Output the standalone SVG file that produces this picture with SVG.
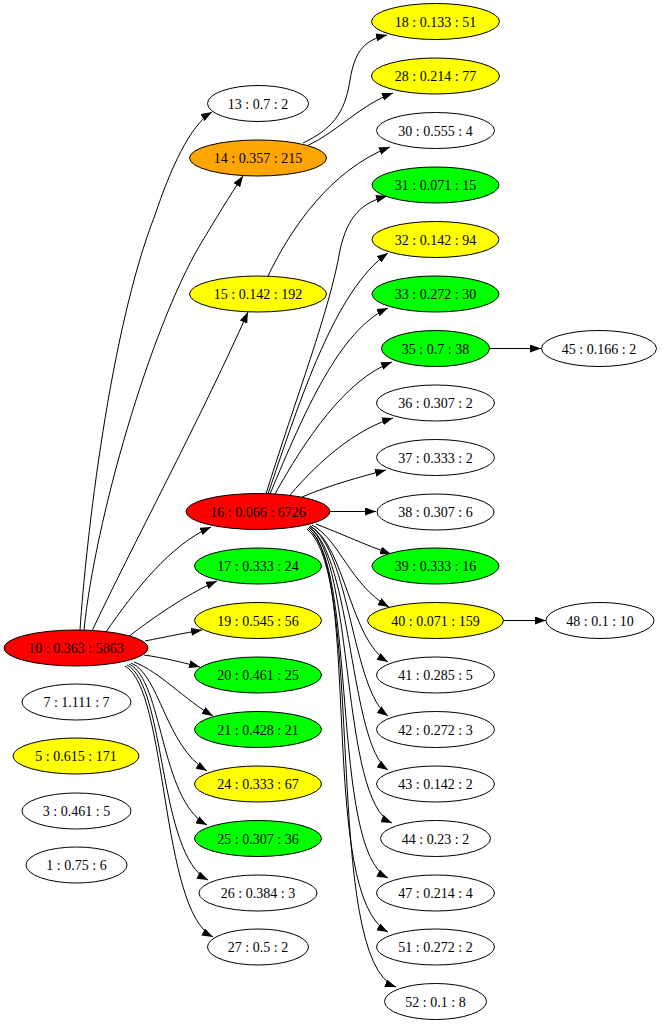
<svg xmlns="http://www.w3.org/2000/svg" width="663" height="1024" viewBox="0 0 663 1024">
<defs>
<style>
.n ellipse{stroke:#000;stroke-width:1}
.n text{font-family:"Liberation Serif","Times New Roman",serif;font-size:14px;text-anchor:middle;fill:#000}
.w{fill:#fff}.r{fill:#ff0000}.g{fill:#00ff00}.y{fill:#ffff00}.o{fill:#ffa500}
#edges path{fill:none;stroke:#000;stroke-width:1;marker-end:url(#ah)}
</style>
<marker id="ah" markerWidth="11" markerHeight="8" refX="11" refY="4" orient="auto" markerUnits="userSpaceOnUse"><path d="M0,0 L11,4 L0,8 z" fill="#000"/></marker>
</defs>
<rect width="663" height="1024" fill="#fff"/>
<g id="edges">
<path d="M80,630 C86,540 110,330 155,215 C170,170 190,125 212,112"/>
<path d="M84,630 C95,520 150,330 200,245 C215,220 230,195 243,176"/>
<path d="M92,631 C130,550 200,420 248,312"/>
<path d="M106,632 C135,590 170,545 211,527"/>
<path d="M128,637 C150,620 185,595 217,581"/>
<path d="M145,641 C165,637 185,633 202,630"/>
<path d="M144,655 C165,658 185,663 200,667"/>
<path d="M134,662 C160,672 185,700 213,716"/>
<path d="M131,663 C160,675 165,745 207,771"/>
<path d="M129,664 C163,680 160,800 207,825"/>
<path d="M127,665 C166,685 158,855 208,880"/>
<path d="M125,666 C168,690 160,910 213,937"/>
<path d="M303,143 C330,130 345,115 350,80 C355,50 365,40 387,35"/>
<path d="M307,146 C340,130 360,105 393,93"/>
<path d="M268,276 C290,230 330,170 390,147"/>
<path d="M266,494 C295,400 330,310 340,250 C348,215 362,203 387,196"/>
<path d="M268,494 C300,400 335,290 388,253"/>
<path d="M270,494 C305,410 340,330 388,308"/>
<path d="M275,494 C305,440 345,380 392,362"/>
<path d="M290,495 C320,460 355,430 393,418"/>
<path d="M302,497 C330,485 360,477 386,470"/>
<path d="M330,511.5 L376,511.5"/>
<path d="M316,524 C340,533 365,545 391,554"/>
<path d="M312,525 C340,540 350,585 389,607"/>
<path d="M310,526 C345,545 350,640 388,662"/>
<path d="M310,526 C350,550 352,690 388,716"/>
<path d="M309,527 C352,555 350,745 388,770"/>
<path d="M309,527 C355,560 340,800 392,823"/>
<path d="M308,528 C358,565 330,850 388,878"/>
<path d="M308,528 C362,570 318,895 388,932"/>
<path d="M307,529 C366,575 322,960 396,987"/>
<path d="M489,348.5 L541,348.5"/>
<path d="M503,620.5 L546,620.5"/>
</g>
<g id="n10" class="n"><ellipse class="r" cx="76" cy="648" rx="72" ry="18"/><text x="76" y="653">10 : 0.363 : 5863</text></g>
<g id="n7" class="n"><ellipse class="w" cx="76.5" cy="702" rx="54.5" ry="18"/><text x="76.5" y="707">7 : 1.111 : 7</text></g>
<g id="n5" class="n"><ellipse class="y" cx="76" cy="756" rx="63" ry="18"/><text x="76" y="761">5 : 0.615 : 171</text></g>
<g id="n3" class="n"><ellipse class="w" cx="76.5" cy="811" rx="54.5" ry="18"/><text x="76.5" y="816">3 : 0.461 : 5</text></g>
<g id="n1" class="n"><ellipse class="w" cx="76.5" cy="865" rx="50.5" ry="18"/><text x="76.5" y="870">1 : 0.75 : 6</text></g>
<g id="n13" class="n"><ellipse class="w" cx="258" cy="103.5" rx="50.5" ry="18"/><text x="258" y="108.5">13 : 0.7 : 2</text></g>
<g id="n14" class="n"><ellipse class="o" cx="258" cy="158" rx="68.5" ry="18"/><text x="258" y="163">14 : 0.357 : 215</text></g>
<g id="n15" class="n"><ellipse class="y" cx="258" cy="294" rx="68.5" ry="18"/><text x="258" y="299">15 : 0.142 : 192</text></g>
<g id="n16" class="n"><ellipse class="r" cx="258" cy="511.5" rx="72" ry="18"/><text x="258" y="516.5">16 : 0.066 : 6726</text></g>
<g id="n17" class="n"><ellipse class="g" cx="258" cy="566" rx="63.5" ry="18"/><text x="258" y="571">17 : 0.333 : 24</text></g>
<g id="n19" class="n"><ellipse class="y" cx="258" cy="620.5" rx="63.5" ry="18"/><text x="258" y="625.5">19 : 0.545 : 56</text></g>
<g id="n20" class="n"><ellipse class="g" cx="258" cy="675" rx="63.5" ry="18"/><text x="258" y="680">20 : 0.461 : 25</text></g>
<g id="n21" class="n"><ellipse class="g" cx="258" cy="729.5" rx="63.5" ry="18"/><text x="258" y="734.5">21 : 0.428 : 21</text></g>
<g id="n24" class="n"><ellipse class="y" cx="258" cy="784" rx="63.5" ry="18"/><text x="258" y="789">24 : 0.333 : 67</text></g>
<g id="n25" class="n"><ellipse class="g" cx="258" cy="838.5" rx="63.5" ry="18"/><text x="258" y="843.5">25 : 0.307 : 36</text></g>
<g id="n26" class="n"><ellipse class="w" cx="258" cy="893" rx="59" ry="18"/><text x="258" y="898">26 : 0.384 : 3</text></g>
<g id="n27" class="n"><ellipse class="w" cx="258" cy="947" rx="50.5" ry="18"/><text x="258" y="952">27 : 0.5 : 2</text></g>
<g id="n18" class="n"><ellipse class="y" cx="435.5" cy="21.5" rx="64" ry="18"/><text x="435.5" y="26.5">18 : 0.133 : 51</text></g>
<g id="n28" class="n"><ellipse class="y" cx="435.5" cy="76" rx="64" ry="18"/><text x="435.5" y="81">28 : 0.214 : 77</text></g>
<g id="n30" class="n"><ellipse class="w" cx="435.5" cy="130.5" rx="59" ry="18"/><text x="435.5" y="135.5">30 : 0.555 : 4</text></g>
<g id="n31" class="n"><ellipse class="g" cx="435.5" cy="185" rx="63.5" ry="18"/><text x="435.5" y="190">31 : 0.071 : 15</text></g>
<g id="n32" class="n"><ellipse class="y" cx="435.5" cy="239.5" rx="63.5" ry="18"/><text x="435.5" y="244.5">32 : 0.142 : 94</text></g>
<g id="n33" class="n"><ellipse class="g" cx="435.5" cy="294" rx="63.5" ry="18"/><text x="435.5" y="299">33 : 0.272 : 30</text></g>
<g id="n35" class="n"><ellipse class="g" cx="435.5" cy="348.5" rx="54" ry="18"/><text x="435.5" y="353.5">35 : 0.7 : 38</text></g>
<g id="n36" class="n"><ellipse class="w" cx="435.5" cy="403" rx="59" ry="18"/><text x="435.5" y="408">36 : 0.307 : 2</text></g>
<g id="n37" class="n"><ellipse class="w" cx="435.5" cy="457.5" rx="59" ry="18"/><text x="435.5" y="462.5">37 : 0.333 : 2</text></g>
<g id="n38" class="n"><ellipse class="w" cx="435.5" cy="512" rx="58.5" ry="18"/><text x="435.5" y="517">38 : 0.307 : 6</text></g>
<g id="n39" class="n"><ellipse class="g" cx="435.5" cy="566" rx="63.5" ry="18"/><text x="435.5" y="571">39 : 0.333 : 16</text></g>
<g id="n40" class="n"><ellipse class="y" cx="435.5" cy="620.5" rx="68" ry="18"/><text x="435.5" y="625.5">40 : 0.071 : 159</text></g>
<g id="n41" class="n"><ellipse class="w" cx="435.5" cy="675" rx="59" ry="18"/><text x="435.5" y="680">41 : 0.285 : 5</text></g>
<g id="n42" class="n"><ellipse class="w" cx="435.5" cy="729.5" rx="59" ry="18"/><text x="435.5" y="734.5">42 : 0.272 : 3</text></g>
<g id="n43" class="n"><ellipse class="w" cx="435.5" cy="784" rx="59" ry="18"/><text x="435.5" y="789">43 : 0.142 : 2</text></g>
<g id="n44" class="n"><ellipse class="w" cx="435.5" cy="838.5" rx="55" ry="18"/><text x="435.5" y="843.5">44 : 0.23 : 2</text></g>
<g id="n47" class="n"><ellipse class="w" cx="435.5" cy="893" rx="59" ry="18"/><text x="435.5" y="898">47 : 0.214 : 4</text></g>
<g id="n51" class="n"><ellipse class="w" cx="435.5" cy="947" rx="59" ry="18"/><text x="435.5" y="952">51 : 0.272 : 2</text></g>
<g id="n52" class="n"><ellipse class="w" cx="435.5" cy="1001.5" rx="51" ry="18"/><text x="435.5" y="1006.5">52 : 0.1 : 8</text></g>
<g id="n45" class="n"><ellipse class="w" cx="599" cy="348.5" rx="57.5" ry="18"/><text x="599" y="353.5">45 : 0.166 : 2</text></g>
<g id="n48" class="n"><ellipse class="w" cx="600" cy="620.5" rx="54" ry="18"/><text x="600" y="625.5">48 : 0.1 : 10</text></g>
</svg>
